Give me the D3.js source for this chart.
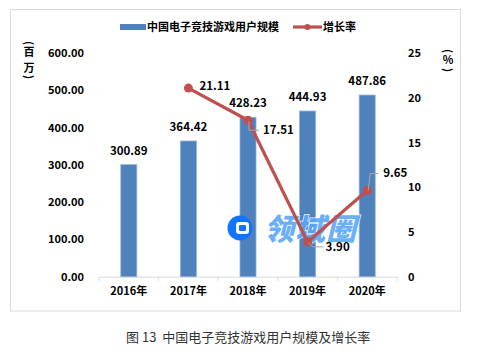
<!DOCTYPE html>
<html><head><meta charset="utf-8">
<script src="https://cdn.jsdelivr.net/npm/d3@7"></script>
<style>body{margin:0;background:#fff}svg{display:block}</style>
</head><body>
<svg id="c" width="477" height="358"></svg>
<script>
const years = ["2016年","2017年","2018年","2019年","2020年"];
const users = [300.89, 364.42, 428.23, 444.93, 487.86];
const growthYears = ["2017年","2018年","2019年","2020年"];
const growth = [21.11, 17.51, 3.90, 9.65];
const leftTicks = [0,100,200,300,400,500,600];
const rightTicks = [0,5,10,15,20,25];
const seriesNames = ["中国电子竞技游戏用户规模","增长率"];
const caption = "图 13  中国电子竞技游戏用户规模及增长率";

const svg = d3.select("#c");
const FONT = "'Noto Sans CJK SC','DejaVu Sans',sans-serif";
const blue = "#4F81BD", red = "#C0504D";

svg.append("rect").attr("x",10.5).attr("y",9.5).attr("width",450).attr("height",301.5)
  .attr("fill","#fff").attr("stroke","#d9d9d9");

const x = d3.scaleBand().domain(years).range([99,397]).padding(0);
const yL = d3.scaleLinear().domain([0,600]).range([276.7,53.3]);
const yR = d3.scaleLinear().domain([0,25]).range([276.7,53.3]);

svg.append("g").selectAll("text").data(leftTicks).join("text")
  .attr("x",84).attr("y",d=>yL(d)).attr("dy","0.35em").attr("text-anchor","end")
  .attr("font-family",FONT).attr("font-weight","bold").attr("font-size",11)
  .text(d=>d3.format(".2f")(d));
svg.append("g").selectAll("text").data(rightTicks).join("text")
  .attr("x",408).attr("y",d=>yR(d)).attr("dy","0.35em").attr("text-anchor","start")
  .attr("font-family",FONT).attr("font-weight","bold").attr("font-size",11)
  .text(d=>d);

const xa = svg.append("g").attr("transform","translate(0,276.7)")
  .call(d3.axisBottom(x).tickSize(0).tickPadding(11));
xa.select(".domain").attr("stroke","#d9d9d9");
xa.selectAll("text").attr("font-family",FONT).attr("font-weight","bold").attr("font-size",11).attr("fill","#000");
const bounds = years.map(d=>x(d)).concat([x.range()[1]]);
svg.append("g").selectAll("line").data(bounds).join("line")
  .attr("x1",d=>d).attr("x2",d=>d).attr("y1",276.7).attr("y2",281).attr("stroke","#d9d9d9");

const bw = 16;
svg.append("g").selectAll("rect").data(users).join("rect")
  .attr("x",(d,i)=>x(years[i])+x.bandwidth()/2-bw/2).attr("width",bw)
  .attr("y",d=>yL(d)).attr("height",d=>yL(0)-yL(d))
  .attr("fill",blue).attr("stroke","#8eb0da").attr("stroke-width",0.8);
svg.append("g").selectAll("text").data(users).join("text")
  .attr("x",(d,i)=>x(years[i])+x.bandwidth()/2).attr("y",d=>yL(d)-10)
  .attr("text-anchor","middle").attr("font-family",FONT).attr("font-weight","bold").attr("font-size",11.5)
  .text(d=>d3.format(".2f")(d));

// watermark
const wm = svg.append("g");
wm.append("circle").attr("cx",240).attr("cy",228).attr("r",12.5).attr("fill","#1173ff");
wm.append("rect").attr("x",236).attr("y",222).attr("width",13).attr("height",12).attr("rx",3)
  .attr("fill","#fff");
wm.append("rect").attr("x",239).attr("y",225).attr("width",7).attr("height",6).attr("rx",1)
  .attr("fill","#1173ff");
wm.append("g").attr("transform","translate(264,240) skewX(-14)")
  .append("text").attr("x",0).attr("y",0).attr("font-family",FONT).attr("font-weight","900")
  .attr("font-size",30).attr("letter-spacing",1)
  .attr("fill","#5aa8f8").attr("stroke","#fff").attr("stroke-width",1.5).attr("paint-order","stroke")
  .attr("opacity",0.9).text("领域圈");

// growth line
const cx = (d,i)=>x(growthYears[i])+x.bandwidth()/2;
const line = d3.line().x((d,i)=>cx(d,i)).y(d=>yR(d));
svg.append("path").datum(growth).attr("d",line).attr("fill","none")
  .attr("stroke",red).attr("stroke-width",3.2);
svg.append("g").selectAll("circle").data(growth).join("circle")
  .attr("cx",cx).attr("cy",d=>yR(d)).attr("r",4.5).attr("fill",red);

const lblOff = [[11,-2,null],[15,10,"down"],[18,5,"dr"],[16,-17,"up"]];
const lg = svg.append("g");
growth.forEach((d,i)=>{
  const px = cx(d,i), py = yR(d);
  const o = lblOff[i];
  const lx = px+o[0], ly = py+o[1];
  if(o[2]==="down"){
    lg.append("path").attr("d",`M${px+1},${py+1}V${ly}H${lx-4}`).attr("fill","none").attr("stroke","#a6a6a6");
  } else if(o[2]==="up"){
    lg.append("path").attr("d",`M${px+1},${py}L${px+3},${ly}H${lx-5}`).attr("fill","none").attr("stroke","#a6a6a6");
  } else if(o[2]==="dr"){
    lg.append("path").attr("d",`M${px+1},${py+1}L${px+5},${ly}H${lx-2}`).attr("fill","none").attr("stroke","#a6a6a6");
  }
  lg.append("text").attr("x",lx).attr("y",ly).attr("dy","0.35em")
    .attr("font-family",FONT).attr("font-weight","bold").attr("font-size",11.5)
    .text(d3.format(".2f")(d));
});

// axis titles (vertical text)
function vchar(g, ch, cx, cy, rot, size){
  g.append("text").attr("x",cx).attr("y",cy).attr("dy","0.35em").attr("text-anchor","middle")
    .attr("font-size",size||11)
    .attr("transform",rot?`rotate(90,${cx},${cy})`:null).text(ch);
}
const lt = svg.append("g").attr("font-family",FONT).attr("font-weight","bold").attr("font-size",11);
vchar(lt,"(",29,43,true,11);
vchar(lt,"百",29,52,false);
vchar(lt,"万",29,68,false);
vchar(lt,")",29,77,true,11);
vchar(lt,"(",448,51,true,11);
vchar(lt,"%",448,60,false);
vchar(lt,")",448,70,true,11);

// legend
const leg = svg.append("g").attr("font-family",FONT).attr("font-weight","bold").attr("font-size",11);
leg.append("rect").attr("x",120).attr("y",24).attr("width",26).attr("height",6).attr("fill",blue);
leg.append("text").attr("x",147).attr("y",27).attr("dy","0.35em").text(seriesNames[0]);
leg.append("line").attr("x1",293).attr("x2",322).attr("y1",27).attr("y2",27).attr("stroke",red).attr("stroke-width",3.2);
leg.append("circle").attr("cx",307.5).attr("cy",27).attr("r",3).attr("fill",red);
leg.append("text").attr("x",323).attr("y",27).attr("dy","0.35em").text(seriesNames[1]);

svg.append("text").attr("x",126).attr("y",337).attr("dy","0.35em").attr("xml:space","preserve")
  .style("white-space","pre")
  .attr("font-family",FONT).attr("font-size",13).attr("fill","#333").text(caption);
</script>
</body></html>
